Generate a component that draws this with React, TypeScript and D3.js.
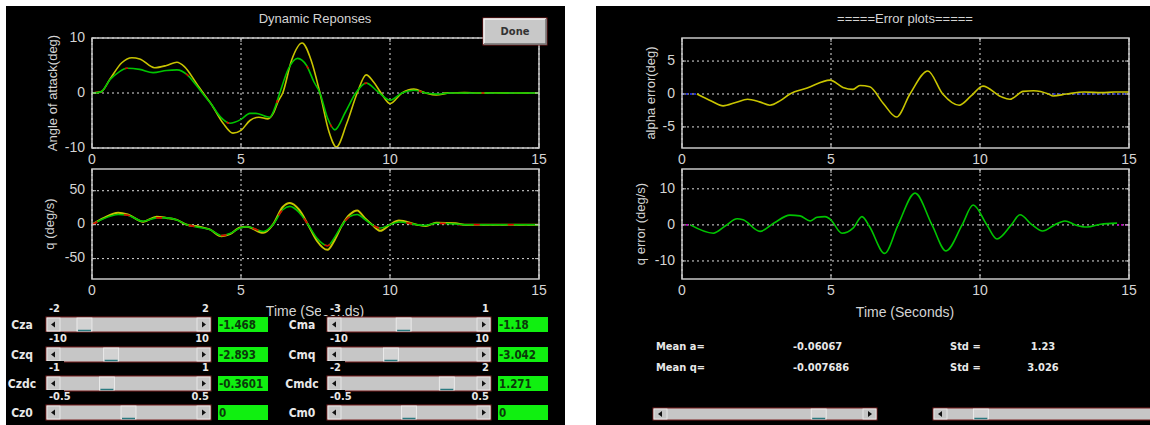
import React from 'react';
import * as d3 from 'd3';

const W = 1150;
const H = 425;

const TIME_TICKS = [0, 5, 10, 15];

// Left top: angle of attack (deg)
const ALPHA_Y_T = [0, 0.3, 0.6, 1.0, 1.34, 1.6, 2.1, 2.5, 2.85, 3.1, 3.5, 3.73, 4.0, 4.4, 4.73, 5.0, 5.3, 5.6, 5.9, 6.1, 6.25, 6.4, 6.7, 7.05, 7.35, 7.65, 7.95, 8.2, 8.55, 8.9, 9.2, 9.45, 9.7, 10.0, 10.4, 10.8, 11.2, 11.55, 12.0, 12.5, 13, 13.5, 14, 14.5, 15];
const ALPHA_Y_V = [0, 0.2, 2.5, 5.5, 6.4, 6.2, 4.6, 5.0, 5.6, 4.8, 1.8, 0, -2.0, -5.5, -7.3, -6.8, -5.0, -4.4, -4.7, -3.5, -1.5, 0, 6.0, 9.1, 6.0, 0, -7.0, -9.8, -5.5, 0, 3.3, 2.0, 0, -1.9, 0, 0.7, 0, -0.35, 0, 0.1, 0, 0.05, 0, 0, 0];
const ALPHA_G_T = [0, 0.3, 0.6, 0.9, 1.17, 1.6, 2.05, 2.5, 2.85, 3.2, 3.5, 3.7, 4.0, 4.3, 4.63, 5.0, 5.3, 5.5, 5.8, 5.97, 6.15, 6.3, 6.6, 6.9, 7.2, 7.45, 7.65, 7.9, 8.15, 8.5, 8.85, 9.2, 9.6, 10.0, 10.4, 10.8, 11.2, 11.6, 12, 13, 14, 15];
const ALPHA_G_V = [0, 0.2, 2.4, 3.8, 4.5, 4.3, 3.7, 4.1, 4.2, 3.3, 1.4, 0, -2.0, -4.3, -5.5, -4.8, -3.7, -3.7, -4.2, -4.4, -2.5, 0, 4.5, 6.3, 5.0, 2.0, 0, -4.5, -6.7, -3.5, 0, 1.8, 0.2, -1.3, 0, 0.5, 0, -0.2, 0, 0, 0, 0];

// Left bottom: pitch rate q (deg/s)
const Q_T = [0, 0.4, 0.88, 1.2, 1.72, 2.17, 2.5, 2.85, 3.18, 3.6, 3.95, 4.35, 4.63, 4.97, 5.2, 5.75, 6.07, 6.4, 6.64, 6.95, 7.25, 7.55, 7.9, 8.15, 8.4, 8.65, 8.9, 9.15, 9.4, 9.67, 10.0, 10.3, 10.9, 11.2, 11.55, 12.2, 12.5, 15];
const Q_Y_V = [0, 10, 17.6, 15, 4.4, 11.8, 10, 7, 0, -3, -7, -17, -14, -4, -3, -12, 0, 26, 32, 22, 0, -24, -37, -22, 0, 15, 21, 10, 0, -9, 0, 6, 0, -2, 3, 2, 0, 0];
const Q_G_V = [0, 9, 15, 14, 5, 10, 10, 7, 0, -4, -7, -16, -13, -5, -3, -10, 0, 22, 27, 18, 0, -20, -31, -18, 0, 12, 15, 8, 0, -5, 0, 4, 0, -1, 2, 1, 0, 0];

// Right top: alpha error (deg)
const AERR_T = [0.5, 1.0, 1.38, 1.8, 2.2, 2.6, 2.95, 3.3, 3.62, 4.2, 4.97, 5.4, 5.74, 5.97, 6.3, 6.75, 7.2, 7.65, 8.25, 8.75, 9.3, 9.7, 10.1, 10.7, 11.0, 11.45, 11.8, 12.3, 12.45, 12.9, 13.5, 14.1, 14.5, 15];
const AERR_V = [0, -1.1, -1.8, -1.3, -0.8, -1.2, -1.7, -1.0, 0, 0.9, 2.1, 1.0, 0.7, 1.3, 1.1, -1.4, -3.5, 0, 3.5, 0, -1.7, -0.3, 1.2, -0.4, -0.8, 0.4, 0.5, 0, -0.3, 0, 0.3, 0.2, 0.3, 0.3];

// Right bottom: q error (deg/s)
const QERR_T = [0.28, 1.05, 1.45, 1.85, 2.05, 2.62, 3.1, 3.62, 3.96, 4.3, 4.53, 4.8, 4.97, 5.37, 5.74, 6.04, 6.3, 6.8, 7.25, 7.82, 8.39, 8.86, 9.4, 9.77, 10.23, 10.57, 11.05, 11.34, 11.75, 12.1, 12.5, 12.85, 13.2, 13.6, 14.05, 14.6];
const QERR_V = [0, -2.3, -0.3, 1.7, 1.4, -1.8, 0.6, 2.7, 2.5, 1.1, 2.1, 2.3, 1.6, -2.3, -0.9, 2.3, -0.6, -7.9, 0, 8.8, 0, -7.2, 0, 5.5, 0, -3.9, 0, 2.8, 0, -1.7, 0, 1.1, 0, -0.6, 0.2, 0.5];

// Sliders
const SL_LEFT_NAMES = ['Cza', 'Czq', 'Czdc', 'Cz0'];
const SL_LEFT_MIN = [-2, -10, -1, -0.5];
const SL_LEFT_MAX = [2, 10, 1, 0.5];
const SL_LEFT_VAL = [-1.468, -2.893, -0.3601, 0];
const SL_LEFT_TXT = ['-1.468', '-2.893', '-0.3601', '0'];
const SL_RIGHT_NAMES = ['Cma', 'Cmq', 'Cmdc', 'Cm0'];
const SL_RIGHT_MIN = [-3, -10, -2, -0.5];
const SL_RIGHT_MAX = [1, 10, 2, 0.5];
const SL_RIGHT_VAL = [-1.18, -3.042, 1.271, 0];
const SL_RIGHT_TXT = ['-1.18', '-3.042', '1.271', '0'];

const STAT_LABELS = ['Mean a=', 'Mean q='];
const STAT_MEANS = ['-0.06067', '-0.007686'];
const STAT_STDS = ['1.23', '3.026'];

const AX_FONT = "'Liberation Sans', Arial, sans-serif";
const UI_FONT = "'DejaVu Sans Condensed', 'Liberation Sans Narrow', 'Liberation Sans', sans-serif";
const TXT = '#d4d4d4';
const YEL = '#c8c400';
const GRN = '#00c400';
const RED = '#e00000';

type Pt = [number, number];
const zip = (t: number[], v: number[]): Pt[] => t.map((d, i) => [d, v[i]]);

type LineSpec = { data: Pt[]; color: string; dash?: string; offset?: number; width?: number };

function Plot(props: {
  id: string; l: number; r: number; t: number; b: number;
  yDomain: [number, number]; yTicks: number[]; yLabel: string; yLabelX: number;
  xLabelY: number; lines: LineSpec[];
}) {
  const { id, l, r, t, b, yDomain, yTicks, yLabel, yLabelX, xLabelY, lines } = props;
  const xs = d3.scaleLinear().domain([0, 15]).range([l, r]);
  const ys = d3.scaleLinear().domain(yDomain).range([b, t]);
  const line = d3.line<Pt>().x(d => xs(d[0])).y(d => ys(d[1])).curve(d3.curveMonotoneX);
  return (
    <g>
      <defs>
        <clipPath id={id}><rect x={l} y={t} width={r - l} height={b - t} /></clipPath>
      </defs>
      {TIME_TICKS.map(v => (
        <line key={'gx' + v} x1={xs(v)} x2={xs(v)} y1={t} y2={b} stroke="#e0e0e0" strokeWidth={1} strokeDasharray="2,3" />
      ))}
      {yTicks.map(v => (
        <line key={'gy' + v} x1={l} x2={r} y1={ys(v)} y2={ys(v)} stroke="#e0e0e0" strokeWidth={1} strokeDasharray="2,3" />
      ))}
      <g clipPath={`url(#${id})`}>
        {lines.map((ln, i) => (
          <path key={i} d={line(ln.data) || ''} fill="none" stroke={ln.color} strokeWidth={ln.width ?? 1.6}
            strokeDasharray={ln.dash} strokeDashoffset={ln.offset} />
        ))}
      </g>
      <rect x={l} y={t} width={r - l} height={b - t} fill="none" stroke="#c8c8c8" strokeWidth={1.5} />
      {TIME_TICKS.map(v => (
        <g key={'tx' + v}>
          <line x1={xs(v)} x2={xs(v)} y1={b} y2={b - 4} stroke="#c8c8c8" />
          <line x1={xs(v)} x2={xs(v)} y1={t} y2={t + 4} stroke="#c8c8c8" />
          <text x={xs(v)} y={xLabelY} textAnchor="middle" dominantBaseline="middle" fill={TXT} fontFamily={AX_FONT} fontSize={14}>{v}</text>
        </g>
      ))}
      {yTicks.map(v => (
        <g key={'ty' + v}>
          <line x1={l} x2={l + 4} y1={ys(v)} y2={ys(v)} stroke="#c8c8c8" />
          <line x1={r} x2={r - 4} y1={ys(v)} y2={ys(v)} stroke="#c8c8c8" />
          <text x={l - 7} y={ys(v)} textAnchor="end" dominantBaseline="middle" fill={TXT} fontFamily={AX_FONT} fontSize={14}>{v}</text>
        </g>
      ))}
      <text transform={`translate(${yLabelX},${(t + b) / 2}) rotate(-90)`} textAnchor="middle" dominantBaseline="middle"
        fill={TXT} fontFamily={AX_FONT} fontSize={13}>{yLabel}</text>
    </g>
  );
}

function Slider(props: { x: number; y: number; w: number; h: number; min: number; max: number; val: number }) {
  const { x, y, w, h, min, max, val } = props;
  const bw = 15;
  const tw = 15;
  const pos = d3.scaleLinear().domain([min, max]).range([x + bw, x + w - bw - tw]).clamp(true);
  const tx = pos(val);
  const cy = y + h / 2;
  return (
    <g>
      <rect x={x} y={y} width={w} height={h} fill="#c6c6c6" stroke="#7a2020" strokeWidth={1} />
      <rect x={x + 1} y={y + 1} width={bw - 2} height={h - 2} fill="#c6c6c6" stroke="#eeeeee" strokeWidth={0.8} />
      <rect x={x + w - bw + 1} y={y + 1} width={bw - 2} height={h - 2} fill="#c6c6c6" stroke="#eeeeee" strokeWidth={0.8} />
      <path d={`M${x + 5},${cy} L${x + 9},${cy - 3} L${x + 9},${cy + 3} Z`} fill="#111" />
      <path d={`M${x + w - 5},${cy} L${x + w - 9},${cy - 3} L${x + w - 9},${cy + 3} Z`} fill="#111" />
      <rect x={tx} y={y + 1} width={tw} height={h - 2} fill="#d2d2d2" stroke="#f0f0f0" strokeWidth={0.8} />
      <line x1={tx + 1} x2={tx + tw - 1} y1={y + h - 1.5} y2={y + h - 1.5} stroke="#2a7a80" strokeWidth={1.5} />
    </g>
  );
}

function SliderGroup(props: {
  labelCx: number; sx: number; sw: number; gx: number;
  names: string[]; mins: number[]; maxs: number[]; vals: number[]; txts: string[];
}) {
  const { labelCx, sx, sw, gx, names, mins, maxs, vals, txts } = props;
  const rowTop = [317, 347, 376, 405];
  return (
    <g>
      {names.map((n, i) => {
        const y = rowTop[i];
        return (
          <g key={n}>
            <rect x={sx - 6} y={y - 15} width={24} height={13} fill="#000" />
            <text x={sx + 3} y={y - 8} dominantBaseline="middle" fill="#e8e8e8" fontFamily={UI_FONT} fontWeight="bold" fontSize={11}>{String(mins[i])}</text>
            <text x={sx + sw - 2} y={y - 8} textAnchor="end" dominantBaseline="middle" fill="#e8e8e8" fontFamily={UI_FONT} fontWeight="bold" fontSize={11}>{String(maxs[i])}</text>
            <text x={labelCx} y={y + 8} textAnchor="middle" dominantBaseline="middle" fill="#e8e8e8" fontFamily={UI_FONT} fontWeight="bold" fontSize={12}>{n}</text>
            <Slider x={sx} y={y} w={sw} h={15} min={mins[i]} max={maxs[i]} val={vals[i]} />
            <rect x={gx} y={y} width={50} height={15} fill="#10f010" />
            <text x={gx + 1} y={y + 8} dominantBaseline="middle" fill="#0a3a0a" fontFamily={UI_FONT} fontWeight="bold" fontSize={11.5}>{txts[i]}</text>
          </g>
        );
      })}
    </g>
  );
}

export default function App() {
  const LX = [92, 539];
  const RX = [682, 1129];
  const tail = (t0: number): LineSpec[] => [
    { data: [[t0, 0], [15, 0]], color: YEL, dash: '5,15', offset: 0 },
    { data: [[t0, 0], [15, 0]], color: GRN, dash: '5,15', offset: 5 },
    { data: [[t0, 0], [15, 0]], color: RED, dash: '5,15', offset: 10 },
    { data: [[t0, 0], [15, 0]], color: '#2040ff', dash: '5,15', offset: 15 },
  ];
  return (
    <svg width={W} height={H} style={{ position: 'absolute', left: 0, top: 0, background: '#fff' }}>
      <rect x={0} y={0} width={W} height={H} fill="#fff" />
      <rect x={6} y={6} width={559} height={H - 6} fill="#000" />
      <rect x={596} y={6} width={W - 596} height={H - 6} fill="#000" />

      {/* Left panel */}
      <text x={315} y={20} textAnchor="middle" dominantBaseline="middle" fill={TXT} fontFamily={AX_FONT} fontSize={13}>Dynamic Reponses</text>
      <Plot id="c1" l={LX[0]} r={LX[1]} t={38} b={148} yDomain={[-10, 10]} yTicks={[-10, 0, 10]}
        yLabel="Angle of attack(deg)" yLabelX={54} xLabelY={160}
        lines={[
          ...tail(11.8),
          { data: [[0, 0], [0.35, 0.3]], color: RED },
          { data: zip(ALPHA_Y_T, ALPHA_Y_V), color: YEL },
          { data: zip(ALPHA_G_T, ALPHA_G_V), color: GRN },
          { data: zip(ALPHA_G_T, ALPHA_G_V), color: RED, dash: '3,60', offset: 20 },
        ]} />
      <Plot id="c2" l={LX[0]} r={LX[1]} t={169} b={279} yDomain={[-80, 82]} yTicks={[-50, 0, 50]}
        yLabel="q (deg/s)" yLabelX={51} xLabelY={291}
        lines={[
          { data: [[12.3, 0], [15, 0]], color: RED, dash: '3,6', offset: 0 },
          { data: [[12.3, 0], [15, 0]], color: '#00c0c0', dash: '3,6', offset: 3 },
          { data: zip(Q_T, Q_Y_V), color: YEL, width: 2 },
          { data: zip(Q_T, Q_G_V), color: GRN },
          { data: zip(Q_T, Q_G_V), color: RED, dash: '6,28', offset: 0 },
        ]} />

      <rect x={483} y={18} width={64} height={27} fill="#c8c8c8" stroke="#7a2020" strokeWidth={1} />
      <path d="M484,44 L484,19 L546,19" fill="none" stroke="#f4f4f4" strokeWidth={1.5} />
      <path d="M484,44 L546,44 L546,19" fill="none" stroke="#707070" strokeWidth={1.5} />
      <text x={515} y={32} textAnchor="middle" dominantBaseline="middle" fill="#333" fontFamily={UI_FONT} fontWeight="bold" fontSize={11}>Done</text>

      <text x={315} y={312} textAnchor="middle" dominantBaseline="middle" fill={TXT} fontFamily={AX_FONT} fontSize={14}>Time (Seconds)</text>

      <SliderGroup labelCx={22} sx={46} sw={165} gx={218}
        names={SL_LEFT_NAMES} mins={SL_LEFT_MIN} maxs={SL_LEFT_MAX} vals={SL_LEFT_VAL} txts={SL_LEFT_TXT} />
      <SliderGroup labelCx={302} sx={327} sw={164} gx={498}
        names={SL_RIGHT_NAMES} mins={SL_RIGHT_MIN} maxs={SL_RIGHT_MAX} vals={SL_RIGHT_VAL} txts={SL_RIGHT_TXT} />

      {/* Right panel */}
      <text x={905} y={20} textAnchor="middle" dominantBaseline="middle" fill={TXT} fontFamily={AX_FONT} fontSize={13}>=====Error plots=====</text>
      <Plot id="c3" l={RX[0]} r={RX[1]} t={38} b={148} yDomain={[-8.2, 8.5]} yTicks={[-5, 0, 5]}
        yLabel="alpha error(deg)" yLabelX={652} xLabelY={160}
        lines={[
          { data: [[0, 0], [0.5, 0]], color: '#2030ff', dash: '2,2' },
          { data: [[12.3, 0], [15, 0]], color: '#2030ff', dash: '2,3' },
          { data: zip(AERR_T, AERR_V), color: YEL },
        ]} />
      <Plot id="c4" l={RX[0]} r={RX[1]} t={169} b={279} yDomain={[-15, 15.5]} yTicks={[-10, 0, 10]}
        yLabel="q error (deg/s)" yLabelX={642} xLabelY={291}
        lines={[
          { data: [[0, 0], [0.3, 0]], color: '#c000c0', dash: '2,2' },
          { data: [[14.6, 0], [15, 0]], color: '#c000c0', dash: '2,2' },
          { data: zip(QERR_T, QERR_V), color: GRN },
        ]} />
      <text x={905} y={313} textAnchor="middle" dominantBaseline="middle" fill={TXT} fontFamily={AX_FONT} fontSize={14}>Time (Seconds)</text>

      {STAT_LABELS.map((s, i) => (
        <g key={s}>
          <text x={656} y={347 + i * 21} dominantBaseline="middle" fill="#e8e8e8" fontFamily={UI_FONT} fontWeight="bold" fontSize={11}>{s}</text>
          <text x={793} y={347 + i * 21} dominantBaseline="middle" fill="#e8e8e8" fontFamily={UI_FONT} fontWeight="bold" fontSize={11}>{STAT_MEANS[i]}</text>
          <text x={950} y={347 + i * 21} dominantBaseline="middle" fill="#e8e8e8" fontFamily={UI_FONT} fontWeight="bold" fontSize={11}>Std =</text>
          <text x={1043} y={347 + i * 21} textAnchor="middle" dominantBaseline="middle" fill="#e8e8e8" fontFamily={UI_FONT} fontWeight="bold" fontSize={11}>{STAT_STDS[i]}</text>
        </g>
      ))}

      <Slider x={653} y={408} w={224} h={12} min={0} max={1} val={0.8} />
      <Slider x={933} y={408} w={240} h={12} min={0} max={1} val={0.13} />
    </svg>
  );
}
